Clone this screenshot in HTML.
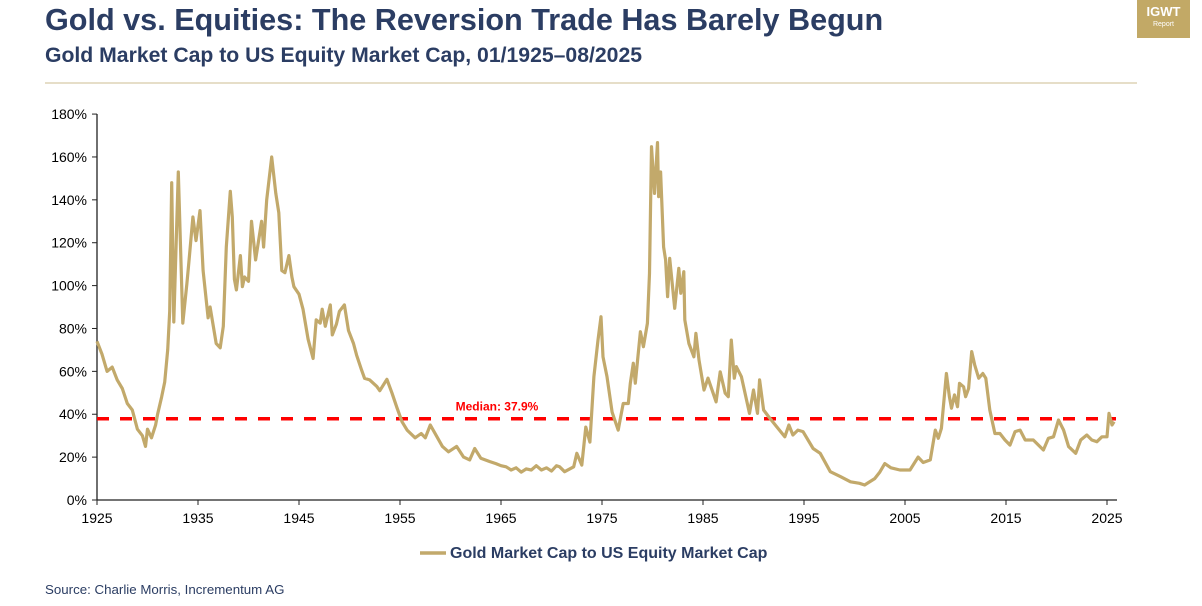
<!DOCTYPE html>
<html><head><meta charset="utf-8"><style>
body{margin:0;background:#fff;width:1202px;height:606px;overflow:hidden;font-family:"Liberation Sans",sans-serif;position:relative}
.t{position:absolute;left:45px;top:3px;font-size:30.6px;font-weight:bold;color:#2b3d63;white-space:nowrap}
.s{position:absolute;left:45px;top:44px;font-size:21.2px;font-weight:bold;color:#2b3d63;white-space:nowrap}
.src{position:absolute;left:45px;top:582px;font-size:13.3px;color:#2b3d63}
.badge{position:absolute;left:1137px;top:0;width:53px;height:38px;background:#c2a966;color:#fff;text-align:center}
</style></head><body>
<div class="t">Gold vs. Equities: The Reversion Trade Has Barely Begun</div>
<div class="s">Gold Market Cap to US Equity Market Cap, 01/1925–08/2025</div>
<div class="badge"><div style="font-size:13px;font-weight:bold;margin-top:4px">IGWT</div><div style="font-size:7px;margin-top:2px">Report</div></div>
<div class="src">Source: Charlie Morris, Incrementum AG</div>
<svg id="c" width="1202" height="606" style="position:absolute;left:0;top:0"></svg>
<script>
const years=[1925,1925.5,1926,1926.5,1927,1927.5,1928,1928.5,1929,1929.5,1929.8,1930,1930.4,1930.8,1931,1931.4,1931.7,1932,1932.2,1932.4,1932.6,1933.05,1933.5,1933.9,1934.1,1934.5,1934.8,1935.2,1935.5,1936,1936.2,1936.8,1937.2,1937.5,1937.8,1938.2,1938.4,1938.6,1938.8,1939.2,1939.4,1939.6,1940,1940.3,1940.7,1941.3,1941.5,1941.8,1942.3,1942.7,1943,1943.3,1943.6,1944,1944.3,1944.5,1945,1945.4,1945.9,1946.4,1946.7,1947.1,1947.3,1947.6,1948.1,1948.3,1948.7,1949,1949.5,1949.9,1950.4,1950.7,1951.2,1951.5,1952,1952.7,1953,1953.7,1954.2,1954.7,1955.2,1955.7,1956.5,1957.1,1957.5,1958,1959.2,1959.8,1960.6,1961.3,1961.9,1962.4,1963,1963.9,1964.5,1965,1965.5,1966,1966.5,1967,1967.5,1968,1968.5,1969,1969.5,1970,1970.5,1970.8,1971.3,1972.2,1972.5,1973,1973.4,1973.8,1974.2,1974.6,1974.9,1975.1,1975.5,1976,1976.6,1977.1,1977.6,1977.8,1978.1,1978.3,1978.8,1979.1,1979.5,1979.7,1979.9,1980.2,1980.5,1980.6,1980.8,1981.1,1981.3,1981.5,1981.7,1982.2,1982.6,1982.8,1983.1,1983.2,1983.6,1984.1,1984.3,1984.6,1985.1,1985.5,1986.3,1986.7,1987.2,1987.5,1987.8,1988.1,1988.3,1988.8,1989.6,1990,1990.4,1990.6,1991,1991.5,1992.3,1993.1,1993.5,1993.9,1994.4,1994.9,1995.9,1996.6,1997.6,1998.6,1999.6,2000.5,2001,2002,2002.5,2003,2003.6,2004.5,2005.5,2006.3,2006.8,2007.5,2008,2008.3,2008.6,2009.1,2009.4,2009.6,2009.9,2010.2,2010.4,2010.8,2011,2011.3,2011.6,2011.9,2012.3,2012.7,2013,2013.4,2013.9,2014.4,2014.9,2015.4,2015.9,2016.4,2016.9,2017.7,2018.7,2019.2,2019.7,2020.2,2020.7,2021.2,2021.9,2022.4,2023,2023.5,2024,2024.5,2025,2025.2,2025.5,2025.7];
const ratio=[74,68,60,62,56,52,45,42,33,30,25,33,29,35,40,48,55,70,88,148,83,153,82.5,101,111,132,121,135,107,85,90,73,71,81,118,144,132,103,98,114,99.5,104,102,130,112,130,118,140,160,143,134,107,106,114,104,99.5,96,89,75,66,84,82.5,89,81,91,77,82,88,91,79,73,67.6,60.6,56.7,56,53,51,56.3,50,43,36.5,32.6,29,31,29,35,25,22.5,25,20,18.7,24,19.5,17.9,17,16,15.5,14,15,13,14.5,14,16,14,15,13.5,16,15.5,13.2,15.5,21.8,16.3,34,27,57.5,74.6,85.5,66.8,57.5,41,32.6,45,45,54.4,63.8,54.5,78.5,71.5,82.4,105.7,164.8,143,166.7,141.5,153,118,112,94.8,112.7,89.4,108,96.4,106.5,84,73,66.8,77.7,65.3,51.3,56.8,45.8,59.8,49.8,48.2,74.6,56.8,62.2,57.5,40.4,51.3,40.4,56,42,38.9,34.2,29.5,35,30.3,32.6,31.9,24,21.8,13.2,10.9,8.5,7.8,7,10,13,17,15,14,14,20,17.5,18.7,32.6,28.8,33.4,59,48.2,42.8,49,43.5,54.4,52.8,48.2,52,69.2,63,56.8,59,56.8,42,31,31,28,25.6,31.9,32.6,28,28,23.3,28.8,29.5,37.3,32.6,24.9,21.8,28,30.3,28,27.2,29.5,29.5,40.4,35,36.5];
const yTicks=[0,20,40,60,80,100,120,140,160,180];
const xTicks=[1925,1935,1945,1955,1965,1975,1985,1995,2005,2015,2025];
const median=[37.9];
const NS='http://www.w3.org/2000/svg',svg=document.getElementById('c');
const X=y=>97+(y-1925)*10.1, Y=v=>500-v*2.144;
function mk(t,a,p){const e=document.createElementNS(NS,t);for(const k in a)e.setAttribute(k,a[k]);(p||svg).appendChild(e);return e;}
let ax=mk('line',{x1:97,y1:114,x2:97,y2:500,stroke:'#222','stroke-width':1.3});

let bx=mk('line',{x1:97,y1:500,x2:1117,y2:500,stroke:'#222','stroke-width':1.3});

mk('line',{x1:45,y1:83,x2:1137,y2:83,stroke:'#d8cba6','stroke-width':1.2});
yTicks.forEach(v=>{mk('line',{x1:92,y1:Y(v),x2:97,y2:Y(v),stroke:'#222'});
 const t=mk('text',{x:87,y:Y(v)+5,'text-anchor':'end','font-size':14,fill:'#000'});t.textContent=v+'%';
 });
xTicks.forEach(v=>{mk('line',{x1:X(v),y1:500,x2:X(v),y2:505,stroke:'#222'});
 const t=mk('text',{x:X(v),y:523,'text-anchor':'middle','font-size':14,fill:'#000'});t.textContent=v;
 });
const ml=mk('line',{x1:97,y1:Y(median[0]),x2:1116,y2:Y(median[0]),stroke:'#ff0000','stroke-width':3.5,'stroke-dasharray':'12 11'});

const mt=mk('text',{x:497,y:Y(median[0])-8,'text-anchor':'middle','font-size':12,'font-weight':'bold',fill:'#ff0000'});
mt.textContent='Median: '+median[0]+'%';

const d=years.map((y,i)=>(i?'L':'M')+X(y).toFixed(1)+','+Y(ratio[i]).toFixed(1)).join('');
const ln=mk('path',{d:d,fill:'none',stroke:'#c2a96b','stroke-width':3.2,'stroke-linejoin':'round'});

const lg=mk('g',{});

mk('line',{x1:420,y1:553,x2:446,y2:553,stroke:'#c2a96b','stroke-width':3.5},lg);
const lt=mk('text',{x:450,y:558,'font-size':16,'font-weight':'bold',fill:'#2b3d63'},lg);lt.textContent='Gold Market Cap to US Equity Market Cap';
</script>
</body></html>
